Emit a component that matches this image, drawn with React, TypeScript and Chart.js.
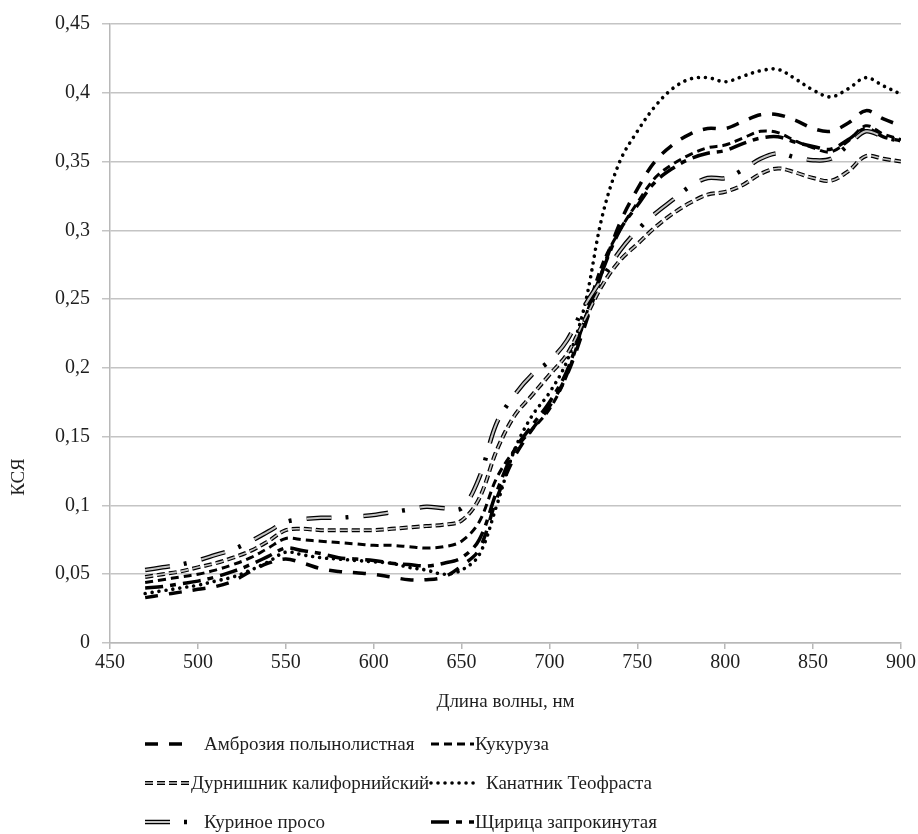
import React, { useEffect, useRef } from "react";
import { Chart, registerables } from "chart.js";

Chart.register(...registerables);

// ---------- data ----------
const wavelengths = [
  470, 480, 490, 500, 510, 520, 530, 540, 550, 560, 570, 580, 590, 600, 610, 620, 630, 640, 650, 660, 670, 680,
  690, 700, 710, 720, 730, 740, 750, 760, 770, 780, 790, 800, 810, 820, 830, 840, 850, 860, 870, 880, 890, 900,
];

const ambrosia = [
  0.033, 0.035, 0.037, 0.039, 0.041, 0.045, 0.052, 0.058, 0.061, 0.058, 0.054, 0.052, 0.051, 0.05, 0.048, 0.046,
  0.046, 0.048, 0.056, 0.068, 0.105, 0.135, 0.155, 0.172, 0.195, 0.23, 0.27, 0.305, 0.33, 0.35, 0.362, 0.37, 0.374,
  0.374, 0.379, 0.384, 0.384, 0.38, 0.374, 0.372, 0.378, 0.387, 0.381, 0.376,
];

const corn = [
  0.044, 0.046, 0.048, 0.05, 0.053, 0.057, 0.062, 0.069, 0.076, 0.075, 0.074, 0.073, 0.072, 0.071, 0.071, 0.07,
  0.069, 0.07, 0.074, 0.088, 0.12, 0.14, 0.155, 0.17, 0.195, 0.235, 0.275, 0.3, 0.32, 0.338, 0.348, 0.355, 0.36,
  0.362, 0.367, 0.372, 0.371, 0.365, 0.36, 0.357, 0.365, 0.376, 0.37, 0.366,
];

const cocklebur = [
  0.048, 0.05, 0.052, 0.055, 0.058, 0.062, 0.067, 0.074, 0.082, 0.083, 0.082, 0.082, 0.082, 0.082, 0.083, 0.084,
  0.085, 0.086, 0.089, 0.105, 0.14, 0.165, 0.18, 0.195, 0.21, 0.235, 0.26, 0.278, 0.29, 0.302, 0.312, 0.32, 0.326,
  0.328, 0.333, 0.341, 0.345, 0.342, 0.338, 0.336, 0.343, 0.354, 0.352, 0.35,
];

const abutilon = [
  0.036, 0.038, 0.04, 0.042, 0.045, 0.048, 0.053, 0.059, 0.066, 0.064, 0.062, 0.061, 0.06, 0.059, 0.058, 0.055,
  0.053, 0.05, 0.053, 0.064, 0.1, 0.14, 0.165, 0.182, 0.205, 0.245, 0.31, 0.35, 0.372, 0.39, 0.403, 0.41, 0.411,
  0.408, 0.412, 0.416, 0.417, 0.41, 0.402, 0.397, 0.403, 0.411, 0.405, 0.399,
];

const barnyard = [
  0.053, 0.055, 0.057, 0.06, 0.064, 0.068, 0.074, 0.081, 0.088, 0.09, 0.091, 0.091, 0.092, 0.093, 0.095, 0.097,
  0.099, 0.098, 0.098, 0.12, 0.16, 0.18, 0.195, 0.205, 0.22, 0.245, 0.265, 0.285, 0.3, 0.312, 0.322, 0.332, 0.338,
  0.338, 0.344, 0.352, 0.356, 0.353, 0.351, 0.352, 0.362, 0.372, 0.368, 0.365,
];

const amaranth = [
  0.04, 0.041, 0.043, 0.045, 0.048, 0.052, 0.057, 0.063, 0.069, 0.067, 0.065, 0.062, 0.061, 0.06, 0.058, 0.057,
  0.056, 0.058, 0.062, 0.075, 0.11, 0.14, 0.158, 0.175, 0.198, 0.235, 0.27, 0.3, 0.318, 0.335, 0.345, 0.352, 0.356,
  0.358, 0.363, 0.367, 0.368, 0.364, 0.361, 0.359, 0.366, 0.374, 0.368, 0.365,
];

const seriesNames = [
  "Амброзия полынолистная",
  "Кукуруза",
  "Дурнишник калифорнийский",
  "Канатник Теофраста",
  "Куриное просо",
  "Щирица запрокинутая",
];

const yTickValues = [0, 0.05, 0.1, 0.15, 0.2, 0.25, 0.3, 0.35, 0.4, 0.45];
const xTickValues = [450, 500, 550, 600, 650, 700, 750, 800, 850, 900];

const xTitle = "Длина волны, нм";
const yTitle = "КСЯ";

// ---------- styles ----------
type LineStyle = {
  width: number;
  dash: number[];
  cap: CanvasLineCap;
  inner?: { width: number; color: string; dash: number[] };
};

const styles: LineStyle[] = [
  { width: 3.5, dash: [13, 11], cap: "butt" },
  { width: 3, dash: [8, 5], cap: "butt" },
  { width: 4, dash: [8, 4], cap: "butt", inner: { width: 1.6, color: "#c4c4c4", dash: [8, 4] } },
  { width: 3.6, dash: [0.01, 7], cap: "round" },
  { width: 4.5, dash: [25, 14, 3, 15], cap: "butt", inner: { width: 2, color: "#c4c4c4", dash: [25, 32] } },
  { width: 3.5, dash: [18, 7, 6, 7], cap: "butt" },
];

const legendPos = [
  { sx: 145, ex: 190, y: 744, tx: 204 },
  { sx: 431, ex: 474, y: 744, tx: 475 },
  { sx: 145, ex: 190, y: 783, tx: 191 },
  { sx: 431, ex: 476, y: 783, tx: 486 },
  { sx: 145, ex: 190, y: 822, tx: 204 },
  { sx: 431, ex: 474, y: 822, tx: 475 },
];

const FONT = "'Liberation Serif', 'Times New Roman', serif";
const TEXT_COLOR = "#1e1e1e";

const fmt = (v: number) => String(parseFloat(v.toFixed(2))).replace(".", ",");

export default function App() {
  const ref = useRef<HTMLCanvasElement | null>(null);

  useEffect(() => {
    document.body.style.margin = "0";
    const canvas = ref.current;
    if (!canvas) return;
    const allSeries = [ambrosia, corn, cocklebur, abutilon, barnyard, amaranth];

    const datasets: any[] = [];
    allSeries.forEach((vals, i) => {
      const st = styles[i];
      const pts = wavelengths.map((w, k) => ({ x: w, y: vals[k] }));
      datasets.push({
        label: seriesNames[i],
        data: pts,
        borderColor: "#000",
        borderWidth: st.width,
        borderDash: st.dash,
        borderCapStyle: st.cap,
        pointRadius: 0,
        pointHoverRadius: 0,
        tension: 0.35,
        fill: false,
        order: 1,
      });
      if (st.inner) {
        datasets.push({
          label: seriesNames[i] + " (inner)",
          data: pts,
          borderColor: st.inner.color,
          borderWidth: st.inner.width,
          borderDash: st.inner.dash,
          borderCapStyle: st.cap,
          pointRadius: 0,
          pointHoverRadius: 0,
          tension: 0.35,
          fill: false,
          order: 0,
        });
      }
    });

    const decor = {
      id: "decor",
      afterDraw(chart: any) {
        const ctx: CanvasRenderingContext2D = chart.ctx;
        ctx.save();
        ctx.fillStyle = TEXT_COLOR;
        ctx.font = `19px ${FONT}`;
        ctx.textAlign = "center";
        ctx.textBaseline = "middle";
        // x title
        ctx.fillText(xTitle, (chart.chartArea.left + chart.chartArea.right) / 2, 702);
        // y title
        ctx.save();
        ctx.translate(19, 477);
        ctx.rotate(-Math.PI / 2);
        ctx.fillText(yTitle, 0, 0);
        ctx.restore();
        // legend
        ctx.textAlign = "left";
        seriesNames.forEach((name, i) => {
          const p = legendPos[i];
          const st = styles[i];
          ctx.save();
          ctx.beginPath();
          ctx.moveTo(p.sx, p.y);
          ctx.lineTo(p.ex, p.y);
          ctx.setLineDash(st.dash);
          ctx.lineCap = st.cap;
          ctx.lineWidth = st.width;
          ctx.strokeStyle = "#000";
          ctx.stroke();
          if (st.inner) {
            ctx.setLineDash(st.inner.dash);
            ctx.lineWidth = st.inner.width;
            ctx.strokeStyle = st.inner.color;
            ctx.stroke();
          }
          ctx.restore();
          ctx.fillStyle = TEXT_COLOR;
          ctx.font = `19px ${FONT}`;
          ctx.fillText(name, p.tx, p.y + 1);
        });
        ctx.restore();
      },
    };

    const chart = new Chart(canvas, {
      type: "line",
      data: { datasets },
      plugins: [decor],
      options: {
        animation: false,
        responsive: false,
        devicePixelRatio: 1,
        layout: { padding: { left: 0, right: 17, top: 23, bottom: 0 } },
        plugins: { legend: { display: false }, tooltip: { enabled: false } },
        scales: {
          x: {
            type: "linear",
            min: 450,
            max: 900,
            afterBuildTicks: (s: any) => {
              s.ticks = xTickValues.map((v) => ({ value: v }));
            },
            afterFit: (s: any) => {
              s.height = 191;
            },
            ticks: {
              color: TEXT_COLOR,
              font: { family: FONT, size: 20 },
              padding: 2,
              maxRotation: 0,
              autoSkip: false,
              callback: (v: any) => String(v),
            },
            grid: { drawOnChartArea: false, drawTicks: true, tickLength: 6, color: "#b8b8b8", lineWidth: 1.5 },
            border: { color: "#b8b8b8", width: 1.5 },
          },
          y: {
            min: 0,
            max: 0.45,
            afterBuildTicks: (s: any) => {
              s.ticks = yTickValues.map((v) => ({ value: v }));
            },
            afterFit: (s: any) => {
              s.width = 110;
            },
            ticks: {
              color: TEXT_COLOR,
              font: { family: FONT, size: 20 },
              padding: 12,
              autoSkip: false,
              callback: (v: any) => fmt(Number(v)),
            },
            grid: { color: "#c4c4c4", lineWidth: 1.5, tickLength: 8, drawTicks: true },
            border: { color: "#b8b8b8", width: 1.5 },
          },
        },
      },
    });
    return () => chart.destroy();
  }, []);

  return (
    <div style={{ width: 918, height: 834, background: "#fff" }}>
      <canvas ref={ref} width={918} height={834} style={{ display: "block" }} />
    </div>
  );
}
